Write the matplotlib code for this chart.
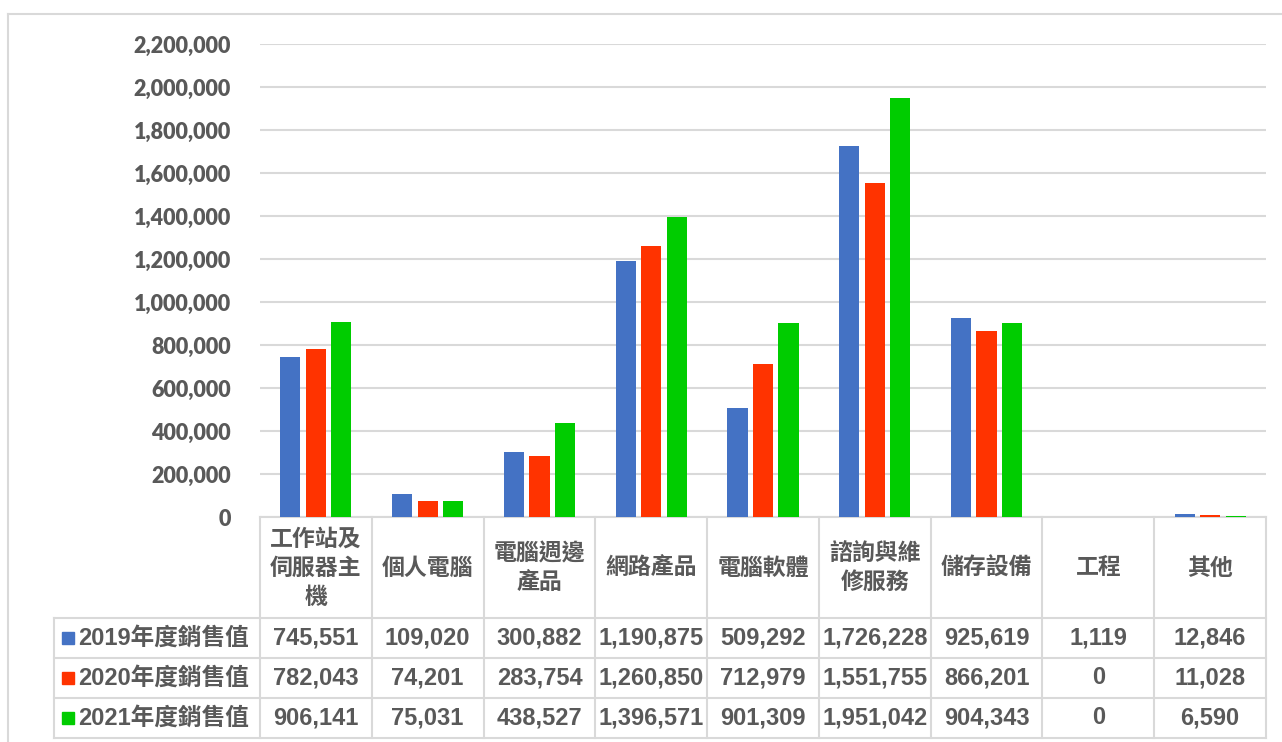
import numpy as np
import matplotlib.pyplot as plt
from matplotlib.lines import Line2D
from matplotlib.patches import Rectangle
from matplotlib.ticker import FuncFormatter
import matplotlib.transforms as mtransforms

# data
categories = ['工作站及\n伺服器主\n機', '個人電腦', '電腦週邊\n產品', '網路產品', '電腦軟體',
              '諮詢與維\n修服務', '儲存設備', '工程', '其他']
series_names = ['2019年度銷售值', '2020年度銷售值', '2021年度銷售值']
sales_2019 = [745551, 109020, 300882, 1190875, 509292, 1726228, 925619, 1119, 12846]
sales_2020 = [782043, 74201, 283754, 1260850, 712979, 1551755, 866201, 0, 11028]
sales_2021 = [906141, 75031, 438527, 1396571, 901309, 1951042, 904343, 0, 6590]
colors = ['#4472C4', '#FF3300', '#00CC00']

W, H = 1282, 742
fig = plt.figure(figsize=(W / 100, H / 100), dpi=100)

def fx(px):
    return px / W

def fy(py):
    return 1 - py / H

grey_txt = '#595959'
line_c = '#D9D9D9'
cjk = ['Noto Sans CJK TC', 'DejaVu Sans']
num_font = ['Liberation Sans', 'Noto Sans CJK TC']

# chart border (top and left visible)
fig.add_artist(Line2D([fx(8), fx(8)], [fy(14), 0], color=line_c, lw=1.5))
fig.add_artist(Line2D([fx(8), 1], [fy(14), fy(14)], color=line_c, lw=1.5))

ax = fig.add_axes([fx(260), fy(517), fx(1266) - fx(260), fy(44) - fy(517)])
x = np.arange(len(categories))
bw = 0.18
step = 0.228
for k, vals in enumerate([sales_2019, sales_2020, sales_2021]):
    ax.bar(x + (k - 1) * step, vals, width=bw, color=colors[k], zorder=3)

ax.set_xlim(-0.5, len(categories) - 0.5)
ax.set_ylim(0, 2200000)
ax.set_yticks(np.arange(0, 2200001, 200000))
ax.yaxis.set_major_formatter(FuncFormatter(lambda v, p: f'{int(v):,}'))
ax.set_xticks([])
ax.grid(axis='y', color=line_c, lw=1.5, zorder=0)
for s in ['top', 'right', 'left']:
    ax.spines[s].set_visible(False)
ax.spines['bottom'].set_color(line_c)
ax.spines['bottom'].set_linewidth(1.5)
ax.tick_params(axis='y', length=0, pad=21, labelsize=15.5, labelcolor=grey_txt)
for lab in ax.get_yticklabels():
    lab.set_fontfamily('Lato')
    lab.set_fontweight('heavy')

# data table below the axes: x in data units, y in figure fraction
tr = mtransforms.blended_transform_factory(ax.transData, fig.transFigure)
row_tops = [517, 618, 658, 698, 738]
n = len(categories)
for i in range(n + 1):
    fig.add_artist(Line2D([i - 0.5, i - 0.5], [fy(517), fy(738)], color=line_c, lw=1.5,
                          transform=tr))
fig.add_artist(Line2D([fx(54), fx(54)], [fy(618), fy(738)], color=line_c, lw=1.5))
for yy in row_tops[1:]:
    fig.add_artist(Line2D([fx(54), fx(1266)], [fy(yy), fy(yy)], color=line_c, lw=1.5))

for i, c in enumerate(categories):
    fig.text(i, fy(568), c, transform=tr, ha='center', va='center', fontsize=16.5,
             family=cjk, weight='bold', color=grey_txt, linespacing=1.33)

for k, (name, vals) in enumerate(zip(series_names, [sales_2019, sales_2020, sales_2021])):
    yc = (row_tops[k + 1] + row_tops[k + 2]) / 2
    fig.add_artist(Rectangle((fx(62), fy(yc + 6)), fx(12), fy(yc - 6) - fy(yc + 6),
                             color=colors[k]))
    fig.text(fx(78), fy(yc), name, ha='left', va='center', fontsize=17, family=num_font,
             weight='bold', color=grey_txt)
    for i, v in enumerate(vals):
        fig.text(i, fy(yc), f'{v:,}', transform=tr, ha='center', va='center', fontsize=17,
                 family=num_font, weight='bold', color=grey_txt)

fig.savefig('out.png', dpi=100)
